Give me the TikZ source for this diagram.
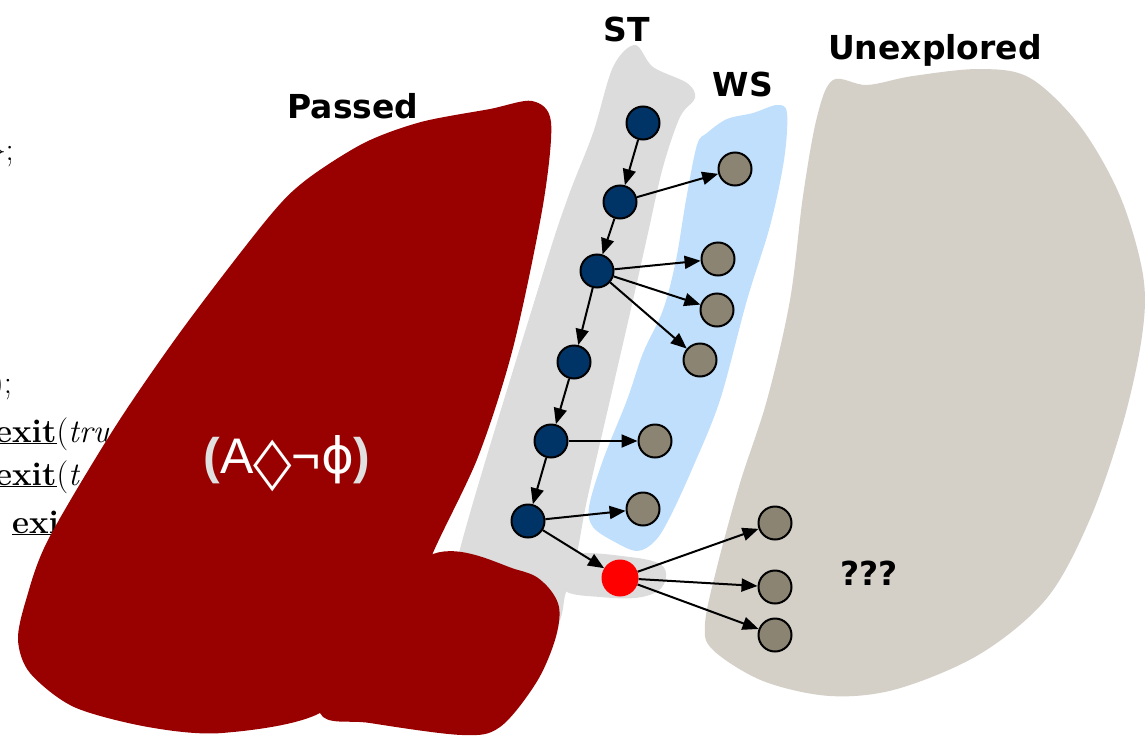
\documentclass[tikz,border=0pt]{standalone}
\usepackage{fontspec}
\newfontfamily\lblfont{DejaVu Sans}
\newfontfamily\arialfont{Liberation Sans}
\usetikzlibrary{arrows.meta}
\definecolor{passedred}{HTML}{990000}
\definecolor{stgray}{HTML}{DCDCDC}
\definecolor{wsblue}{HTML}{BFDFFC}
\definecolor{unexgray}{HTML}{D4D0C8}
\definecolor{stblue}{HTML}{003366}
\definecolor{nodegray}{HTML}{8C8473}
\definecolor{parengray}{HTML}{E0E0E0}
\begin{document}
\begin{tikzpicture}[x=1pt,y=-1pt,
  stnode/.style={circle,fill=stblue,draw=black,line width=2pt,minimum size=33pt,inner sep=0pt},
  wsnode/.style={circle,fill=nodegray,draw=black,line width=2pt,minimum size=33pt,inner sep=0pt},
  rednode/.style={circle,fill=red,minimum size=37pt,inner sep=0pt},
  arrowedge/.style={line width=2pt,-{Triangle[length=16pt,width=13pt]}},
  lbl/.style={font=\fontsize{33}{40}\selectfont\lblfont\bfseries,inner sep=0pt},
  frag/.style={font=\fontsize{33}{40}\selectfont,inner sep=0pt,anchor=base west}]
\useasboundingbox (0,0) rectangle (1148,736);
% code fragments at left edge
\node[frag] (f1) at (-10,160) {\}\kern-1pt;};
\node[frag] (f2) at (-8,393) {);};
\node[frag] (f3) at (-5,442) {\underline{\textbf{exit}}(\textit{tru}};
\node[frag] (f4) at (-5,485) {\underline{\textbf{exit}}(\textit{t}};
\node[frag] (f5) at (12,533) {\underline{\textbf{exit}}};
% ST region
\fill[stgray] plot[smooth cycle,tension=0.55] coordinates {
 (635,45) (653,67) (687,83) (695,98) (680,117) (663,167) (648,233) (633,300)
 (610,400) (587,500) (577,553) (566,592) (548,632) (450,640) (459,553)
 (540,283) (567,200) (593,133) (613,67)};
\fill[stgray] plot[smooth cycle,tension=0.6] coordinates {
 (575,554) (630,557) (660,564) (666,577) (658,591) (635,598) (600,597) (567,592) (560,575)};
% WS region
\fill[wsblue] plot[smooth cycle,tension=0.55] coordinates {
 (707,133) (727,119) (753,113) (777,105) (787,113) (784,160) (770,226) (747,300)
 (720,400) (693,467) (670,517) (655,541) (637,551) (613,541) (593,527) (589,507)
 (603,460) (627,400) (643,353) (663,310) (676,260) (686,200) (697,145)};
% Unexplored region
\fill[unexgray] plot[smooth cycle,tension=0.55] coordinates {
 (833,80) (867,85) (913,76) (980,69) (1030,78) (1080,126) (1120,196) (1143,275)
 (1142,336) (1123,423) (1090,519) (1047,598) (980,654) (897,689) (830,696)
 (763,681) (713,650) (705,624) (717,567) (740,483) (767,400) (790,300) (803,196) (817,117)};
% Passed region
\fill[passedred] plot[smooth cycle,tension=0.5] coordinates {
 (532,101) (551,122) (543,205) (513,348) (478,457) (432,555) (400,640) (320,713)
 (222,733) (148,727) (74,707) (30,673) (18,640) (26,600) (48,540) (115,427) (184,327) (268,218)
 (306,180) (364,143) (421,122) (490,109)};
\fill[passedred] plot[smooth cycle,tension=0.55] coordinates {
 (433,554) (518,570) (544,583) (559,607) (555,640) (536,683) (500,727) (462,735)
 (370,723) (320,713) (330,640)};
% labels
\node[lbl] (lpassed) at (353,106) {Passed};
\node[lbl] (lst) at (627,29) {ST};
\node[lbl] (lws) at (743,84) {WS};
\node[lbl] (lunex) at (935,50) {Unexplored};
\node[lbl] (lq) at (869,573) {???};
\node[font=\fontsize{50}{60}\selectfont\arialfont,text=white,inner sep=0pt,anchor=base] (phi) at (287,473)
 {\textcolor{parengray}{\bfseries(}A{\lblfont\raisebox{-10pt}{\scalebox{1.0}[1.35]{◇}}}¬{\lblfont ϕ}\textcolor{parengray}{\bfseries)}};
% nodes
\node[stnode] (s1) at (643,123) {};
\node[stnode] (s2) at (620,202) {};
\node[stnode] (s3) at (597,271) {};
\node[stnode] (s4) at (574,362) {};
\node[stnode] (s5) at (551,441) {};
\node[stnode] (s6) at (528,521) {};
\node[rednode] (r) at (620,578) {};
\node[wsnode] (g1) at (735,169) {};
\node[wsnode] (g2) at (718,259) {};
\node[wsnode] (g3) at (717,310) {};
\node[wsnode] (g4) at (700,360) {};
\node[wsnode] (g5) at (655,441) {};
\node[wsnode] (g6) at (643,509) {};
\node[wsnode] (g7) at (775,523) {};
\node[wsnode] (g8) at (775,587) {};
\node[wsnode] (g9) at (775,635) {};
% edges
\draw[arrowedge] (s1) -- (s2);
\draw[arrowedge] (s2) -- (s3);
\draw[arrowedge] (s3) -- (s4);
\draw[arrowedge] (s4) -- (s5);
\draw[arrowedge] (s5) -- (s6);
\draw[arrowedge] (s6) -- (r);
\draw[arrowedge] (s2) -- (g1);
\draw[arrowedge] (s3) -- (g2);
\draw[arrowedge] (s3) -- (g3);
\draw[arrowedge] (s3) -- (g4);
\draw[arrowedge] (s5) -- (g5);
\draw[arrowedge] (s6) -- (g6);
\draw[arrowedge] (r) -- (g7);
\draw[arrowedge] (r) -- (g8);
\draw[arrowedge] (r) -- (g9);
\end{tikzpicture}
\end{document}
